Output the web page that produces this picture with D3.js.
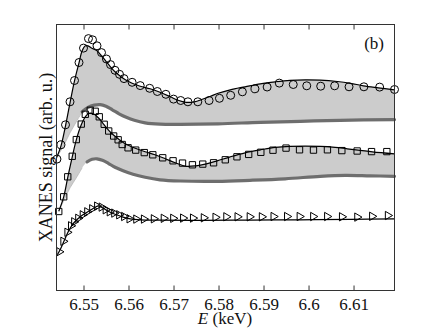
<!DOCTYPE html>
<html>
<head>
<meta charset="utf-8">
<script src="https://cdn.jsdelivr.net/npm/d3@7"></script>
<style>
  html, body { margin: 0; padding: 0; background: #fff; }
  svg { display: block; }
</style>
</head>
<body>
<svg id="chart" width="436" height="328"></svg>
<script>
// ---------- data (E in keV, signal in arb. u.) ----------
const xTicks = [6.55, 6.56, 6.57, 6.58, 6.59, 6.60, 6.61];
const xTickLabels = ["6.55", "6.56", "6.57", "6.58", "6.59", "6.6", "6.61"];

// circles (top spectrum) measured points
const circE = [6.5441,6.5450,6.5460,6.5470,6.5480,6.5490,6.5500,6.5511,6.5520,6.5530,6.5540,6.5551,6.5560,6.5570,6.5580,6.5590,6.5608,6.5626,6.5647,6.5664,6.5683,6.5700,6.5716,6.5732,6.5754,6.5779,6.5802,6.5827,6.5853,6.5881,6.5908,6.5935,6.5966,6.5996,6.6027,6.6058,6.6090,6.6123,6.6158,6.6191];
const circV = [1.314,1.457,1.657,1.887,2.100,2.280,2.424,2.519,2.507,2.447,2.379,2.315,2.259,2.202,2.162,2.119,2.082,2.049,2.022,1.990,1.962,1.914,1.900,1.887,1.887,1.900,1.922,1.952,1.987,2.017,2.035,2.074,2.060,2.047,2.043,2.047,2.037,2.037,2.034,2.010];
// top fit (black line, upper edge of band 1)
const fit1E = [6.5440,6.5450,6.5460,6.5470,6.5480,6.5490,6.5497,6.5504,6.5510,6.5519,6.5530,6.5540,6.5550,6.5559,6.5570,6.5582,6.5593,6.5608,6.5626,6.5648,6.5670,6.5693,6.5710,6.5728,6.5746,6.5764,6.5782,6.5799,6.5826,6.5859,6.5893,6.5926,6.5959,6.5993,6.6026,6.6064,6.6093,6.6122,6.6155,6.6191];
const fit1V = [1.327,1.447,1.647,1.877,2.097,2.277,2.397,2.447,2.447,2.422,2.397,2.347,2.292,2.242,2.187,2.142,2.107,2.072,2.042,2.017,1.982,1.937,1.902,1.882,1.887,1.912,1.942,1.972,2.007,2.037,2.067,2.087,2.102,2.107,2.104,2.090,2.072,2.047,2.027,2.007];
// lower edge of band 1 (dark grey curve)
const low1E = [6.5440,6.5457,6.5470,6.5484,6.5497,6.5510,6.5524,6.5537,6.5550,6.5564,6.5579,6.5595,6.5613,6.5637,6.5670,6.5715,6.5799,6.5893,6.5982,6.6070,6.6191];
const low1V = [1.327,1.457,1.577,1.687,1.787,1.832,1.854,1.859,1.842,1.807,1.767,1.732,1.702,1.677,1.664,1.662,1.667,1.682,1.692,1.702,1.709];

// squares (middle spectrum)
const sqE = [6.5445,6.5456,6.5465,6.5475,6.5484,6.5495,6.5504,6.5515,6.5526,6.5535,6.5546,6.5556,6.5567,6.5577,6.5586,6.5599,6.5616,6.5635,6.5654,6.5676,6.5699,6.5720,6.5742,6.5765,6.5789,6.5815,6.5841,6.5867,6.5894,6.5921,6.5950,6.5980,6.6011,6.6042,6.6074,6.6108,6.6140,6.6174];
const sqV = [0.790,0.937,1.137,1.342,1.509,1.664,1.762,1.802,1.792,1.737,1.662,1.595,1.545,1.507,1.460,1.427,1.404,1.379,1.357,1.327,1.297,1.274,1.257,1.264,1.277,1.307,1.337,1.361,1.382,1.403,1.424,1.407,1.404,1.407,1.399,1.395,1.389,1.389];
const fit2E = [6.5445,6.5456,6.5465,6.5475,6.5484,6.5495,6.5504,6.5512,6.5522,6.5533,6.5544,6.5555,6.5566,6.5577,6.5593,6.5615,6.5637,6.5659,6.5682,6.5704,6.5728,6.5750,6.5773,6.5797,6.5826,6.5859,6.5893,6.5926,6.5959,6.6026,6.6059,6.6086,6.6115,6.6142,6.6191];
const fit2V = [0.792,0.937,1.132,1.337,1.507,1.657,1.737,1.772,1.767,1.727,1.667,1.607,1.557,1.517,1.467,1.422,1.387,1.357,1.317,1.277,1.242,1.247,1.267,1.297,1.337,1.377,1.407,1.432,1.442,1.442,1.432,1.417,1.402,1.387,1.367];
const low2E = [6.5445,6.5457,6.5470,6.5484,6.5497,6.5508,6.5519,6.5530,6.5542,6.5555,6.5570,6.5588,6.5610,6.5637,6.5670,6.5715,6.5797,6.5870,6.5948,6.6026,6.6082,6.6137,6.6191];
const low2V = [0.792,0.907,1.027,1.127,1.227,1.287,1.312,1.317,1.302,1.272,1.232,1.197,1.162,1.132,1.107,1.095,1.092,1.102,1.117,1.142,1.152,1.147,1.142];

// triangles (bottom spectrum)
const triE = [6.5446,6.5455,6.5464,6.5472,6.5479,6.5488,6.5498,6.5508,6.5519,6.5530,6.5540,6.5549,6.5558,6.5568,6.5579,6.5590,6.5602,6.5617,6.5634,6.5656,6.5678,6.5699,6.5721,6.5743,6.5767,6.5793,6.5817,6.5842,6.5869,6.5896,6.5922,6.5952,6.5980,6.6010,6.6041,6.6074,6.6108,6.6141,6.6176];
const triV = [0.387,0.492,0.582,0.647,0.687,0.722,0.757,0.787,0.817,0.844,0.834,0.807,0.787,0.774,0.757,0.740,0.717,0.714,0.714,0.717,0.722,0.722,0.724,0.724,0.727,0.732,0.737,0.737,0.737,0.737,0.740,0.740,0.740,0.740,0.740,0.737,0.734,0.742,0.750];
const fit3E = [6.5442,6.5448,6.5457,6.5466,6.5475,6.5484,6.5493,6.5504,6.5515,6.5526,6.5533,6.5542,6.5555,6.5570,6.5586,6.5604,6.5626,6.5670,6.5759,6.5870,6.5982,6.6093,6.6191];
const fit3V = [0.357,0.407,0.497,0.587,0.657,0.702,0.737,0.772,0.802,0.832,0.847,0.827,0.792,0.762,0.737,0.717,0.707,0.704,0.702,0.704,0.707,0.712,0.717];

const darkFrom1 = 6.5497;   // dark grey stroke starts here
const darkFrom2 = 6.5505;

// ---------- layout ----------
const svg = d3.select("#chart");
const L = 56.5, R = 394.5, T = 24.5, B = 290.5;
const x = d3.scaleLinear().domain([6.544, 6.6191]).range([L, R]);
const y = d3.scaleLinear().domain([0, 2.66]).range([B, T]);

const zip = (a, b) => a.map((v, i) => [v, b[i]]);
const line = d3.line().x(d => x(d[0])).y(d => y(d[1])).curve(d3.curveCatmullRom.alpha(0.5));

const BAND = "#cccccc", DARK = "#6e6e6e";
const FONT = "'Liberation Serif', 'Times New Roman', serif";

function band(upE, upV, loE, loV, darkFrom) {
  const up = zip(upE, upV), lo = zip(loE, loV);
  const p1 = line(up);
  const p2 = line(lo.slice().reverse()).replace(/^M/, "L");
  svg.append("path").attr("d", p1 + p2 + "Z").attr("fill", BAND).attr("stroke", "none");
  svg.append("path").attr("d", line(lo.filter(d => d[0] <= darkFrom + 0.0002)))
    .attr("fill", "none").attr("stroke", "#b5b5b5").attr("stroke-width", 0.8);
  svg.append("path").attr("d", line(lo.filter(d => d[0] >= darkFrom)))
    .attr("fill", "none").attr("stroke", DARK).attr("stroke-width", 3.2)
    .attr("stroke-linecap", "round");
}

band(fit1E, fit1V, low1E, low1V, darkFrom1);
band(fit2E, fit2V, low2E, low2V, darkFrom2);

// fit lines
[[fit1E, fit1V], [fit2E, fit2V], [fit3E, fit3V]].forEach(([e, v]) => {
  svg.append("path").attr("d", line(zip(e, v)))
    .attr("fill", "none").attr("stroke", "#000").attr("stroke-width", 1.2);
});

// markers
svg.append("g").selectAll("circle").data(zip(circE, circV)).join("circle")
  .attr("cx", d => x(d[0])).attr("cy", d => y(d[1])).attr("r", 4)
  .attr("fill", "none").attr("stroke", "#000").attr("stroke-width", 1);

const sqSym = d3.symbol().type(d3.symbolSquare).size(40);
svg.append("g").selectAll("path").data(zip(sqE, sqV)).join("path")
  .attr("d", sqSym).attr("transform", d => `translate(${x(d[0])},${y(d[1])})`)
  .attr("fill", "none").attr("stroke", "#000").attr("stroke-width", 1);

const triSym = d3.symbol().type(d3.symbolTriangle).size(30);
svg.append("g").selectAll("path").data(zip(triE, triV)).join("path")
  .attr("d", triSym).attr("transform", d => `translate(${x(d[0])},${y(d[1])}) rotate(90)`)
  .attr("fill", "none").attr("stroke", "#000").attr("stroke-width", 1);

// axes (ticks inward, top and bottom)
const fmt = d => xTickLabels[xTicks.indexOf(d)];
const gB = svg.append("g").attr("transform", `translate(0,${B})`)
  .call(d3.axisBottom(x).tickValues(xTicks).tickFormat(fmt).tickSize(-5).tickPadding(7));
const gT = svg.append("g").attr("transform", `translate(0,${T})`)
  .call(d3.axisTop(x).tickValues(xTicks).tickFormat("").tickSize(-5));
[gB, gT].forEach(g => {
  g.select(".domain").remove();
  g.selectAll(".tick line").attr("stroke", "#333");
});
gB.selectAll(".tick text").attr("font-family", FONT).attr("font-size", 17).attr("fill", "#111");

svg.append("rect").attr("x", L).attr("y", T).attr("width", R - L).attr("height", B - T)
  .attr("fill", "none").attr("stroke", "#333").attr("stroke-width", 1);

// labels
const xl = svg.append("text").attr("x", 225).attr("y", 324).attr("text-anchor", "middle")
  .attr("font-family", FONT).attr("font-size", 17).attr("fill", "#111");
xl.append("tspan").attr("font-style", "italic").text("E");
xl.append("tspan").text(" (keV)");

svg.append("text").attr("transform", "translate(51.5,157.5) rotate(-90)")
  .attr("text-anchor", "middle").attr("font-family", FONT).attr("font-size", 18)
  .attr("fill", "#111").text("XANES signal (arb. u.)");

svg.append("text").attr("x", 384).attr("y", 48.5).attr("text-anchor", "end")
  .attr("font-family", FONT).attr("font-size", 17).attr("fill", "#111").text("(b)");
</script>
</body>
</html>
